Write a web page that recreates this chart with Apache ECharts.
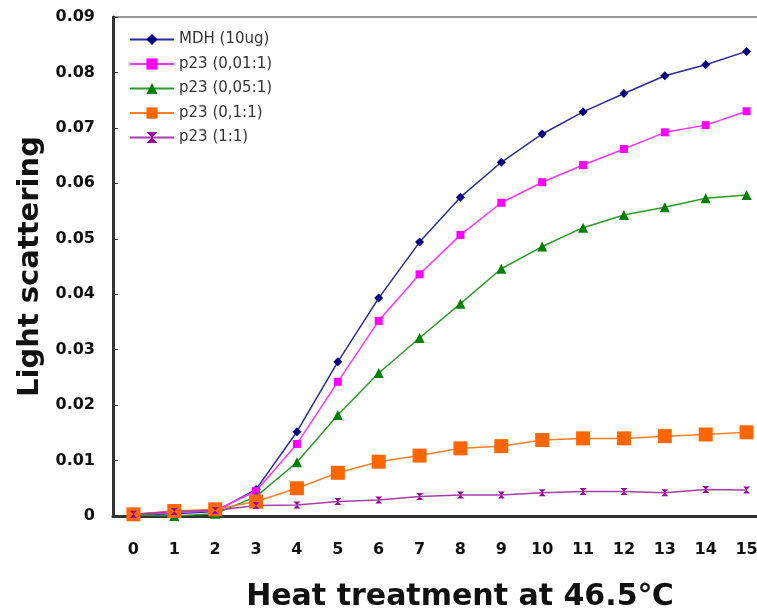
<!DOCTYPE html>
<html>
<head>
<meta charset="utf-8">
<script src="https://cdn.jsdelivr.net/npm/echarts@6/dist/echarts.min.js"></script>
<style>
  html, body { margin: 0; padding: 0; background: #fff; }
  #lightScattering { width: 757px; height: 616px; }
</style>
</head>
<body>
<div id="lightScattering"></div>
<script>
// heat treatment time points
const hours = ['0', '1', '2', '3', '4', '5', '6', '7', '8', '9', '10', '11', '12', '13', '14', '15']

const mdh = [0.0002, 0.0004, 0.0008, 0.0048, 0.0152, 0.0278, 0.0393, 0.0494, 0.0575, 0.0638, 0.0689, 0.0729, 0.0762, 0.0794, 0.0814, 0.0838]
const p23_001 = [0.0003, 0.0006, 0.001, 0.0045, 0.013, 0.0242, 0.0352, 0.0436, 0.0507, 0.0565, 0.0602, 0.0633, 0.0662, 0.0692, 0.0705, 0.073]
const p23_005 = [0.0002, 0.0, 0.0004, 0.0035, 0.0097, 0.0182, 0.0258, 0.0321, 0.0383, 0.0446, 0.0486, 0.052, 0.0543, 0.0557, 0.0573, 0.0579]
const p23_01 = [0.0003, 0.0009, 0.0012, 0.0026, 0.005, 0.0078, 0.0098, 0.0109, 0.0122, 0.0126, 0.0137, 0.014, 0.014, 0.0144, 0.0147, 0.0151]
const p23_1 = [0.0003, 0.0008, 0.001, 0.0019, 0.002, 0.0026, 0.0029, 0.0035, 0.0038, 0.0038, 0.0042, 0.0044, 0.0044, 0.0042, 0.0048, 0.0047]

const names = ['MDH (10ug)', 'p23 (0,01:1)', 'p23 (0,05:1)', 'p23 (0,1:1)', 'p23 (1:1)']

const chart = echarts.init(document.getElementById('lightScattering'))

function line(name, data, color, lineColor, symbol, size) {
  return {
    name: name,
    type: 'line',
    data: data,
    symbol: symbol,
    symbolSize: size,
    itemStyle: { color: color },
    lineStyle: { color: lineColor, width: 1.5 },
    emphasis: { disabled: true }
  }
}

const option = {
  animation: false,
  textStyle: { fontFamily: 'DejaVu Sans' },
  grid: {
    left: 113,
    width: 654,
    top: 17,
    bottom: 100,
    outerBoundsMode: 'none',
    containLabel: false,
    show: true,
    borderColor: '#999',
    borderWidth: 2
  },
  legend: {
    orient: 'vertical',
    left: 124,
    top: 27,
    itemWidth: 44,
    itemHeight: 14,
    itemGap: 9.5,
    textStyle: { fontFamily: 'DejaVu Sans', fontSize: 15, color: '#333' },
    data: names
  },
  xAxis: {
    type: 'category',
    data: hours,
    boundaryGap: true,
    name: 'Heat treatment at 46.5℃',
    nameLocation: 'middle',
    nameGap: 66,
    nameTextStyle: { fontSize: 30, fontWeight: 'bold', color: '#111', padding: [0, 0, 0, 40] },
    axisLine: { lineStyle: { color: '#333', width: 3 } },
    axisTick: { inside: true, length: 4, lineStyle: { color: '#333', width: 1 } },
    axisLabel: { margin: 26, fontSize: 16, fontWeight: 'bold', color: '#111' },
    splitLine: { show: false }
  },
  yAxis: {
    type: 'value',
    min: 0,
    max: 0.09,
    interval: 0.01,
    name: 'Light scattering',
    nameLocation: 'middle',
    nameGap: 66,
    nameTextStyle: { fontSize: 29, fontWeight: 'bold', color: '#111' },
    axisLine: { show: true, lineStyle: { color: '#333', width: 3 } },
    axisTick: { show: true, inside: true, length: 5, lineStyle: { color: '#333', width: 1 } },
    axisLabel: {
      margin: 18,
      fontSize: 16,
      fontWeight: 'bold',
      color: '#111',
      formatter: v => (v === 0 ? '0' : v.toFixed(2))
    },
    splitLine: { show: false }
  },
  series: [
    line(names[0], mdh, '#000080', '#2b2b99', 'diamond', 9),
    line(names[1], p23_001, '#ff00ff', '#ff33ff', 'rect', 8),
    line(names[2], p23_005, '#008000', '#2a9a2a', 'triangle', 10),
    line(names[3], p23_01, '#ff6600', '#ff7f2a', 'rect', 14),
    line(names[4], p23_1, '#990099', '#a23fa2', 'path://M0,0 L10,0 L0,10 L10,10 Z', 7)
  ]
}

chart.setOption(option)
</script>
</body>
</html>
